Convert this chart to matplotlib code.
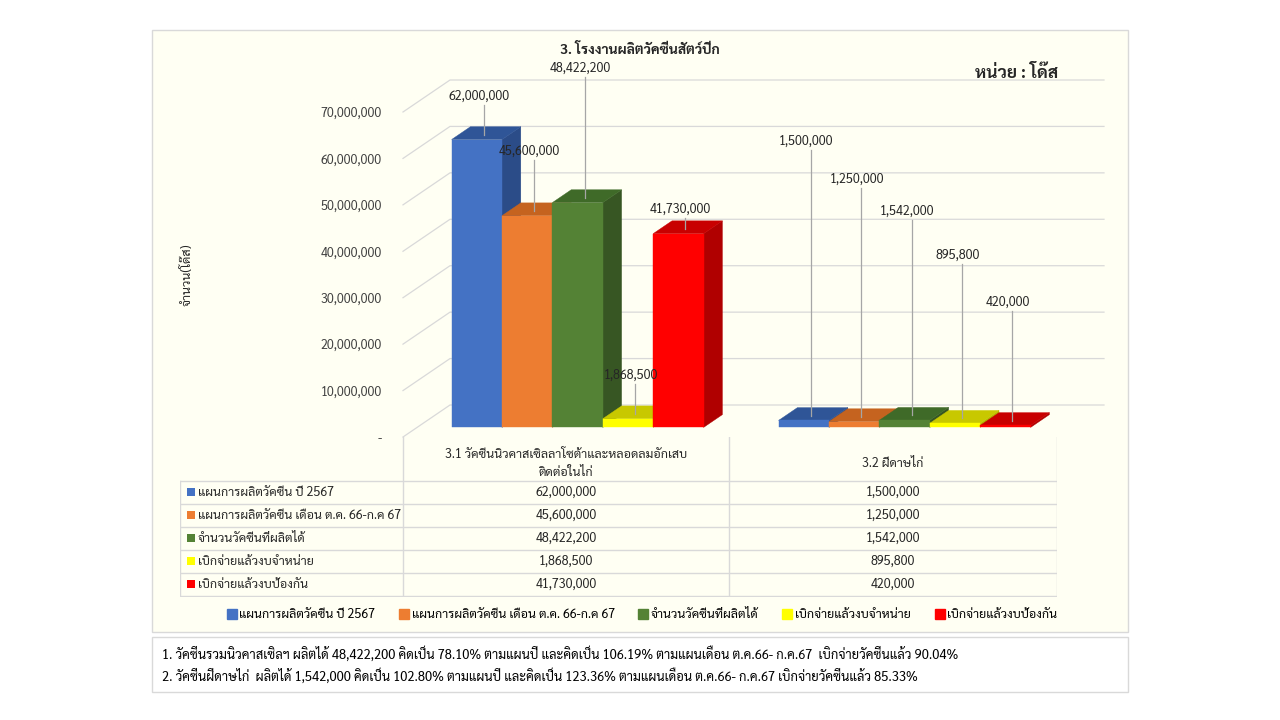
import matplotlib
matplotlib.use("Agg")
import matplotlib.pyplot as plt
from matplotlib import font_manager
from matplotlib.patches import Polygon, Rectangle
from matplotlib.lines import Line2D
from matplotlib.ticker import FuncFormatter

# ---- data ----
categories = ["3.1 วัคซีนนิวคาสเซิลลาโซต้าและหลอดลมอักเสบ\nติดต่อในไก่", "3.2 ฝีดาษไก่"]
series = ["แผนการผลิตวัคซีน ปี 2567",
          "แผนการผลิตวัคซีน เดือน ต.ค. 66-ก.ค 67",
          "จำนวนวัคซีนที่ผลิตได้",
          "เบิกจ่ายแล้วงบจำหน่าย",
          "เบิกจ่ายแล้วงบป้องกัน"]
plan_year = [62000000, 1500000]
plan_month = [45600000, 1250000]
produced = [48422200, 1542000]
paid_sale = [1868500, 895800]
paid_prevent = [41730000, 420000]
values = [plan_year, plan_month, produced, paid_sale, paid_prevent]
yticks = [0, 10000000, 20000000, 30000000, 40000000, 50000000, 60000000, 70000000]
title = "3. โรงงานผลิตวัคซีนสัตว์ปีก"
unit_text = "หน่วย : โด๊ส"
ylabel = "จำนวน(โด๊ส)"
notes = ["1. วัคซีนรวมนิวคาสเซิลฯ ผลิตได้ 48,422,200 คิดเป็น 78.10% ตามแผนปี และคิดเป็น 106.19% ตามแผนเดือน ต.ค.66- ก.ค.67  เบิกจ่ายวัคซีนแล้ว 90.04%",
         "2. วัคซีนฝีดาษไก่  ผลิตได้ 1,542,000 คิดเป็น 102.80% ตามแผนปี และคิดเป็น 123.36% ตามแผนเดือน ต.ค.66- ก.ค.67 เบิกจ่ายวัคซีนแล้ว 85.33%"]

# ---- styles / layout ----
front_cols = ["#4472C4", "#ED7D31", "#548235", "#FFFF00", "#FF0000"]
top_cols = ["#2F5597", "#C5631F", "#3F6A28", "#C8C800", "#C80000"]
side_cols = ["#2B4C88", "#B05A1C", "#375623", "#B5B500", "#B00000"]
# label heights (value units, front plane) picked to mimic the hand-placed labels
label_y = [[73.4e6, 61.6e6, 79.5e6, 13.4e6, 49.1e6],
           [63.8e6, 55.6e6, 48.7e6, 39.2e6, 29.1e6]]

avail = {f.name for f in font_manager.fontManager.ttflist}
thai = next((n for n in ["Sarabun", "Noto Sans Thai Looped", "Noto Sans Thai",
                         "IBM Plex Sans Thai Looped", "Anuphan", "Bai Jamjuree"]
             if n in avail), "DejaVu Sans")
plt.rcParams["font.family"] = [thai, "DejaVu Sans"]

W, H = 1280, 720
def fx(px): return px / W
def fy(py): return 1 - py / H

fig = plt.figure(figsize=(12.8, 7.2), dpi=100)
fig.patch.set_facecolor("white")
fig.add_artist(Rectangle((fx(152), fy(632)), fx(1128) - fx(152), fy(30) - fy(632),
                         transform=fig.transFigure, facecolor="#FFFFF3",
                         edgecolor="#D9D9D9", lw=1, zorder=0))
fig.add_artist(Rectangle((fx(152), fy(692)), fx(1128) - fx(152), fy(637) - fy(692),
                         transform=fig.transFigure, facecolor="white",
                         edgecolor="#D9D9D9", lw=1, zorder=0))

# main axes: x in category units (front plane 0..2 -> px 403..1057), y in doses
PXU = 327.0
PPM = (437 - 112) / 70e6   # px per dose
xl = (-0.06, 2.2)
yl = (-1.5e6, 82e6)
left_px, right_px = 403 + xl[0] * PXU, 403 + xl[1] * PXU
bot_px, top_px = 437 - yl[0] * PPM, 437 - yl[1] * PPM
ax = fig.add_axes([fx(left_px), fy(bot_px), fx(right_px) - fx(left_px), fy(top_px) - fy(bot_px)])
ax.set_xlim(*xl)
ax.set_ylim(*yl)
ax.patch.set_visible(False)
for s in ax.spines.values():
    s.set_visible(False)
ax.set_xticks([])
ax.set_yticks(yticks)
ax.yaxis.set_major_formatter(FuncFormatter(lambda v, p: "-" if v == 0 else f"{int(v):,}"))
ax.tick_params(axis="y", length=0, pad=1, labelsize=9, labelcolor="#404040")

DX = 47 / PXU
DY = 32 / PPM
def proj(x, y, z):
    return (x + z * DX, y + z * DY)

grid_c = "#D9D9D9"
for v in yticks:
    a, b, c = proj(0, v, 0), proj(0, v, 1), proj(2, v, 1)
    ax.plot([a[0], b[0], c[0]], [a[1], b[1], c[1]], color=grid_c, lw=0.9, zorder=1)

bw = 50.4 / PXU
z0, z1 = 0.3, 0.7
for g in range(len(categories)):
    start = g + 0.5 - 2.5 * bw - 3 / PXU
    for i in range(len(series)):
        v = values[i][g]
        x0, x1 = start + i * bw, start + (i + 1) * bw
        side = [proj(x1, 0, z0), proj(x1, 0, z1), proj(x1, v, z1), proj(x1, v, z0)]
        top = [proj(x0, v, z0), proj(x1, v, z0), proj(x1, v, z1), proj(x0, v, z1)]
        front = [proj(x0, 0, z0), proj(x1, 0, z0), proj(x1, v, z0), proj(x0, v, z0)]
        zo = 3 + g * 10 + i
        ax.add_patch(Polygon(side, closed=True, fc=side_cols[i], ec=side_cols[i], lw=0.3, zorder=zo))
        ax.add_patch(Polygon(top, closed=True, fc=top_cols[i], ec=top_cols[i], lw=0.3, zorder=zo))
        ax.add_patch(Polygon(front, closed=True, fc=front_cols[i], ec=front_cols[i], lw=0.3, zorder=zo))
        # leader line + label
        xc = (x0 + x1) / 2
        lx = proj(xc, 0, 0.35)[0]
        tx, ty = proj(xc, v, 0.45)
        ax.plot([tx, tx], [ty, label_y[g][i] - 1.9e6], color="#A6A6A6", lw=0.9, zorder=30)
        ax.text(lx, label_y[g][i], f"{v:,}", ha="center", va="center",
                fontsize=9, color="#262626", zorder=31)

# title and texts
fig.text(fx(640), fy(50), title, ha="center", va="center", fontsize=10, fontweight="bold", color="#262626")
fig.text(fx(1017), fy(73), unit_text, ha="center", va="center", fontsize=12.5, fontweight="bold", color="#262626")
fig.text(fx(187), fy(275), ylabel, ha="center", va="center", rotation=90, fontsize=9, color="#262626")

# data table under the chart
tax = fig.add_axes([fx(180), fy(597), fx(1057) - fx(180), fy(437) - fy(597)])
tax.set_xlim(180, 1057)
tax.set_ylim(597, 437)
tax.axis("off")
col_px = [180, 403, 729, 1057]
row_px = [437, 481, 504, 527, 550, 573, 596]
lc = "#D9D9D9"
for yy in row_px[1:]:
    tax.plot([col_px[0], col_px[-1]], [yy, yy], color=lc, lw=1)
tax.plot([col_px[0], col_px[0]], [row_px[1], row_px[-1]], color=lc, lw=1)
for xx in col_px[1:]:
    tax.plot([xx, xx], [row_px[0], row_px[-1]], color=lc, lw=1)
for g, cat in enumerate(categories):
    cx = (col_px[g + 1] + col_px[g + 2]) / 2
    tax.text(cx, (row_px[0] + row_px[1]) / 2 + 5, cat, ha="center", va="center",
             fontsize=9, color="#262626", linespacing=1.5)
for i, name in enumerate(series):
    cy = (row_px[i + 1] + row_px[i + 2]) / 2
    tax.add_patch(Rectangle((187, cy - 4.5), 8, 8, fc=front_cols[i], ec="none"))
    tax.text(198, cy, name, ha="left", va="center", fontsize=9, color="#262626")
    for g in range(len(categories)):
        cx = (col_px[g + 1] + col_px[g + 2]) / 2
        tax.text(cx, cy, f"{values[i][g]:,}", ha="center", va="center", fontsize=9, color="#262626")

# legend
handles = [Line2D([], [], ls="none", marker="s", ms=7, mfc=c, mec=c) for c in front_cols]
fig.legend(handles, series, loc="center", bbox_to_anchor=(fx(642), fy(615)), ncol=5,
           frameon=False, fontsize=9, handletextpad=0.2, columnspacing=1.9, handlelength=0.8)

# notes
for k, line in enumerate(notes):
    fig.text(fx(162), fy(654 + k * 22), line, ha="left", va="center", fontsize=9.3, color="black")

fig.savefig("out.png", dpi=100)
